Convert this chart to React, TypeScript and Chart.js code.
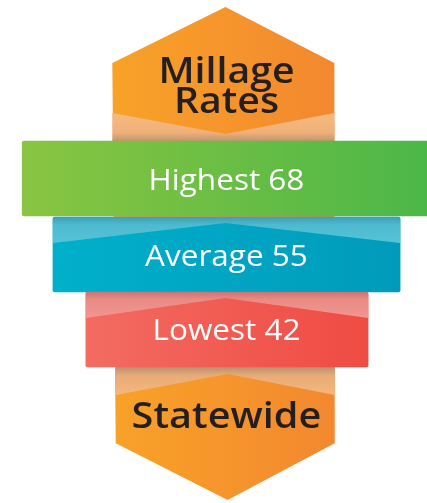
import React, { useEffect, useRef } from "react";
import { Chart, registerables } from "chart.js";

Chart.register(...registerables);

// ---- data ----
const categories = ["Highest", "Average", "Lowest"];
const values = [68, 55, 42];
// bar extents (percent of width) and centres (percent of height, from top)
const barStart = [5.2, 12.4, 20.1];
const barEnd = [101.2, 93.7, 86.2];
const barCenter = [35.5, 50.6, 65.5];
const titleLines = ["Millage", "Rates"];
const footerText = "Statewide";
// hexagon outline (percent of width / percent of height from top)
const hexX = [52.8, 78.3, 78.4, 53.3, 27.1, 26.3];
const hexY = [1.4, 12.5, 88.1, 99.4, 88.1, 12.5];
const titleBaseline = [16.5, 22.5];
const footerBaseline = 85.1;

// ---- styles ----
const barColors = [
  ["#89C541", "#4BB748"],
  ["#00B0CB", "#009BBB"],
  ["#F36B62", "#EF4B43"],
];
const orangeL = "#F8A228";
const orangeR = "#F3882F";
const darkText = "#231F20";
const FONT = "'Open Sans', 'Noto Sans', sans-serif";

function drawText(ctx: CanvasRenderingContext2D, text: string, cx: number, baseline: number, font: string, color: string, sx: number) {
  ctx.save();
  ctx.font = font;
  ctx.fillStyle = color;
  ctx.textAlign = "center";
  ctx.textBaseline = "alphabetic";
  ctx.translate(cx, baseline);
  ctx.scale(sx, 1);
  ctx.fillText(text, 0, 0);
  ctx.restore();
}

function band(ctx: CanvasRenderingContext2D, left: number, right: number, cx: number, top: number, depth: number, rise: number, stops: [number, string][], pointDown: boolean) {
  ctx.save();
  const g = ctx.createLinearGradient(0, top, 0, top + depth);
  stops.forEach(([o, c]) => g.addColorStop(o, c));
  ctx.fillStyle = g;
  ctx.beginPath();
  if (!pointDown) {
    ctx.moveTo(left, top);
    ctx.lineTo(right, top);
    ctx.lineTo(right, top + depth);
    ctx.lineTo(cx, top + depth - rise);
    ctx.lineTo(left, top + depth);
  } else {
    ctx.moveTo(left, top);
    ctx.lineTo(cx, top + rise);
    ctx.lineTo(right, top);
    ctx.lineTo(right, top + depth);
    ctx.lineTo(left, top + depth);
  }
  ctx.closePath();
  ctx.fill();
  ctx.restore();
}

const decor = {
  id: "decor",
  beforeDatasetsDraw(chart: any) {
    const { ctx, scales } = chart;
    const x = scales.x, y = scales.y;
    const px = hexX.map((v) => x.getPixelForValue(v));
    const py = hexY.map((v) => y.getPixelForValue(v));
    ctx.save();
    const g = ctx.createLinearGradient(Math.min(...px), 0, Math.max(...px), 0);
    g.addColorStop(0, orangeL);
    g.addColorStop(1, orangeR);
    ctx.fillStyle = g;
    ctx.beginPath();
    px.forEach((v, i) => (i === 0 ? ctx.moveTo(v, py[i]) : ctx.lineTo(v, py[i])));
    ctx.closePath();
    ctx.fill();
    ctx.restore();

    const meta = chart.getDatasetMeta(0);
    const first = meta.data[0];
    const last = meta.data[meta.data.length - 1];
    if (!first || !last) return;
    const greenTop = first.y - first.height / 2;
    const redBottom = last.y + last.height / 2;
    band(ctx, px[5], px[1], px[0], greenTop - 28, 28, 21,
      [[0, "#F6BA7E"], [0.7, "#EFB079"], [1, "#C29471"]], true);
    band(ctx, px[4], px[2], px[3], redBottom, 28, 21,
      [[0, "#B99070"], [0.3, "#E8AB78"], [1, "#F6B77C"]], false);
  },
  afterDatasetsDraw(chart: any) {
    const { ctx, scales } = chart;
    const x = scales.x;
    const meta = chart.getDatasetMeta(0);
    const cx = x.getPixelForValue(hexX[0]);
    const bandStops: ([number, string][] | null)[] = [
      null,
      [[0, "#3F9FB4"], [0.3, "#4DBAD0"], [1, "#56C3D6"]],
      [[0, "#CC7570"], [0.3, "#EA8C86"], [1, "#F3958E"]],
    ];
    meta.data.forEach((el: any, i: number) => {
      const st = bandStops[i];
      if (!st) return;
      const top = el.y - el.height / 2;
      const l = x.getPixelForValue(barStart[i]);
      const r = x.getPixelForValue(barEnd[i]);
      band(ctx, l, r, cx, top, 26, 20, st, false);
    });
  },
  afterDraw(chart: any) {
    const { ctx, scales } = chart;
    const x = scales.x, y = scales.y;
    const cx = x.getPixelForValue(hexX[0]) + 1;
    titleLines.forEach((t, i) => {
      drawText(ctx, t, cx, y.getPixelForValue(titleBaseline[i]), `600 36px ${FONT}`, darkText, 1.09);
    });
    drawText(ctx, footerText, cx, y.getPixelForValue(footerBaseline), `600 36px ${FONT}`, darkText, 1.1);
    const meta = chart.getDatasetMeta(0);
    meta.data.forEach((el: any, i: number) => {
      drawText(ctx, `${categories[i]} ${values[i]}`, cx, el.y + 11, `500 30px ${FONT}`, "#FFFFFF", 1.05);
    });
  },
};

export default function App() {
  const ref = useRef<HTMLCanvasElement | null>(null);
  useEffect(() => {
    if (!ref.current) return;
    const chart = new Chart(ref.current, {
      type: "bar",
      data: {
        labels: categories,
        datasets: [
          {
            data: categories.map((c, i) => ({ x: [barStart[i], barEnd[i]], y: barCenter[i] })) as any,
            backgroundColor: (c: any) => {
              const i = c.dataIndex ?? 0;
              const ch = c.chart;
              const xs = ch.scales && ch.scales.x;
              if (!ch.chartArea || !xs) return barColors[i][0];
              const g = ch.ctx.createLinearGradient(xs.getPixelForValue(barStart[i]), 0, xs.getPixelForValue(barEnd[i]), 0);
              g.addColorStop(0, barColors[i][0]);
              g.addColorStop(1, barColors[i][1]);
              return g;
            },
            borderWidth: 0,
            borderRadius: 2,
            borderSkipped: false,
            barPercentage: 1,
            categoryPercentage: 1,
          },
        ],
      },
      options: {
        indexAxis: "y",
        animation: false,
        responsive: true,
        maintainAspectRatio: false,
        events: [],
        layout: { padding: 0 },
        plugins: { legend: { display: false }, tooltip: { enabled: false } },
        scales: {
          x: { type: "linear", min: 0, max: 100, display: false, offset: false },
          y: { type: "linear", min: 0, max: 100, reverse: true, display: false, offset: false, ticks: { stepSize: 50 } },
        },
      } as any,
      plugins: [decor],
    });
    return () => chart.destroy();
  }, []);
  return (
    <div style={{ position: "absolute", left: 0, top: 0, width: 427, height: 503, background: "#fff" }}>
      <canvas ref={ref} />
    </div>
  );
}
